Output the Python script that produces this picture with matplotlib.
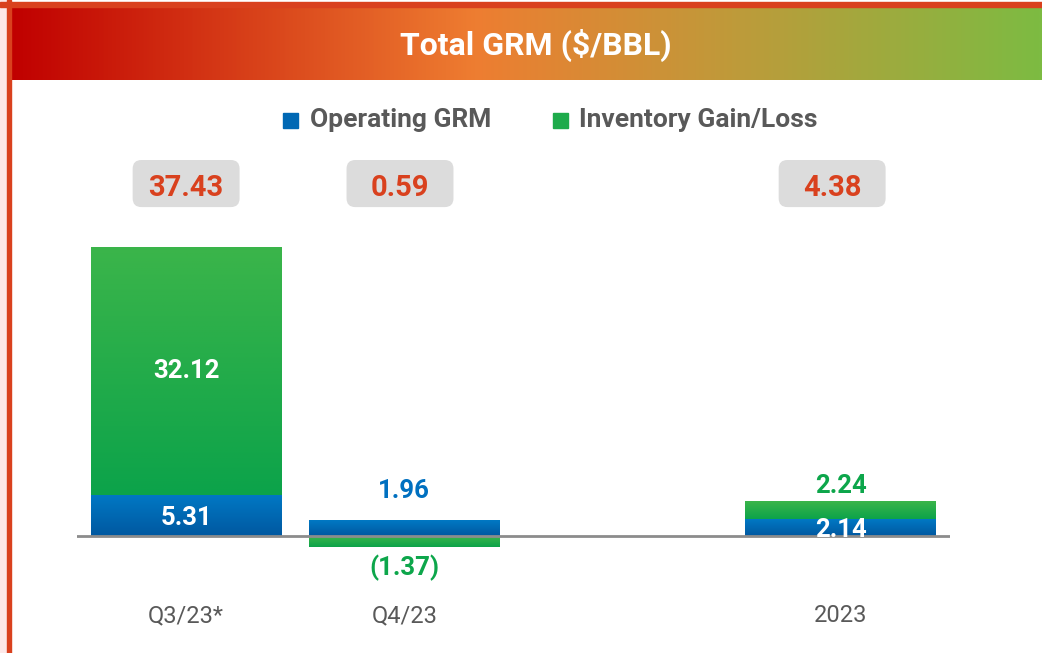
import numpy as np
import matplotlib.pyplot as plt
from matplotlib.colors import LinearSegmentedColormap
from matplotlib.patches import Rectangle, FancyBboxPatch

# data
categories = ["Q3/23*", "Q4/23", "2023"]
positions = [0, 1, 3]
operating = [5.31, 1.96, 2.14]
inventory = [32.12, -1.37, 2.24]
totals = ["37.43", "0.59", "4.38"]
op_labels = ["5.31", "1.96", "2.14"]
inv_labels = ["32.12", "(1.37)", "2.24"]

W, H = 1042, 653
fig = plt.figure(figsize=(W / 100, H / 100), dpi=100)
plt.rcParams['font.family'] = ['Roboto', 'DejaVu Sans']

RED = '#D9411E'
BLUE_TXT = '#0070C0'
GREEN_TXT = '#0DA64B'
GREY_TXT = '#595959'

blue_cm = LinearSegmentedColormap.from_list('b', ['#0058A0', '#0078C4'])
green_cm = LinearSegmentedColormap.from_list('g', ['#0CA34A', '#3BB54A'])
grad_v = np.linspace(0, 1, 256).reshape(-1, 1)

# frame decorations (pink strip, red border lines)
fig.patches.append(Rectangle((0, 0), 7 / W, 1, transform=fig.transFigure,
                             color='#FDE8E8', zorder=0))
fig.patches.append(Rectangle((7 / W, 0), 4 / W, 1, transform=fig.transFigure,
                             color=RED, zorder=1))
fig.patches.append(Rectangle((0, 1 - 7 / H), 1, 5 / H, transform=fig.transFigure,
                             color=RED, zorder=1))

# header gradient
hdr = fig.add_axes([11 / W, 1 - 80 / H, 1 - 11 / W, 73 / H])
hdr_cm = LinearSegmentedColormap.from_list(
    'h', [(0, '#C00000'), (0.45, '#EE7D31'), (0.7, '#BF9A3A'), (1, '#7DBB42')])
hdr.imshow(np.linspace(0, 1, 512).reshape(1, -1), cmap=hdr_cm, aspect='auto',
           extent=[0, 1, 0, 1])
hdr.set_axis_off()
hdr.text(0.509, 0.47, "Total GRM ($/BBL)", color='white', fontsize=23,
         fontweight='bold', ha='center', va='center')

# legend
leg_y = 1 - 120 / H
fig.patches.append(Rectangle((283 / W, 1 - 128 / H), 15 / W, 15 / H,
                             transform=fig.transFigure, color='#0068B4'))
fig.text(310 / W, leg_y, "Operating GRM", color=GREY_TXT, fontsize=19,
         fontweight='bold', va='center', ha='left')
fig.patches.append(Rectangle((553 / W, 1 - 128 / H), 15 / W, 15 / H,
                             transform=fig.transFigure, color='#1EAB4B'))
fig.text(579 / W, leg_y, "Inventory Gain/Loss", color=GREY_TXT, fontsize=19,
         fontweight='bold', va='center', ha='left')

# main axes
ax = fig.add_axes([77 / W, 1 - 590 / H, (950 - 77) / W, 430 / H])
width = 0.875
ob = ax.bar(positions, operating, width, color='none')
inv_bottom = [o if v >= 0 else 0 for o, v in zip(operating, inventory)]
ib = ax.bar(positions, inventory, width, bottom=inv_bottom, color='none')

for bars, cm in ((ob, blue_cm), (ib, green_cm)):
    for b in bars:
        x0, y0 = b.get_x(), b.get_y()
        y1 = y0 + b.get_height()
        ax.imshow(grad_v, cmap=cm, aspect='auto', origin='lower',
                  extent=[x0, x0 + b.get_width(), min(y0, y1), max(y0, y1)],
                  zorder=2)

ax.axhline(0, color='#8C8C8C', lw=2, zorder=3)
ax.set_xlim(-0.5, 3.5)
ax.set_ylim(-7, 48.7)
ax.set_axis_off()

lbl = dict(fontsize=18.5, fontweight='bold', ha='center', va='center', zorder=4)
# Q3/23
ax.text(positions[0], operating[0] + inventory[0] / 2, inv_labels[0], color='white', **lbl)
ax.text(positions[0], operating[0] / 2 - 0.3, op_labels[0], color='white', **lbl)
# Q4/23
ax.text(positions[1], operating[1] + 3.9, op_labels[1], color=BLUE_TXT, **lbl)
ax.text(positions[1], inventory[1] - 2.7, inv_labels[1], color=GREEN_TXT, **lbl)
# 2023
ax.text(positions[2], operating[2] + inventory[2] + 2.1, inv_labels[2], color=GREEN_TXT, **lbl)
ax.text(positions[2], operating[2] / 2 - 0.3, op_labels[2], color='white', **lbl)

# total boxes (px -> data: 218 px per x unit, 7.72 px per y unit)
box_w, box_h = 0.49, 6.1
aspect = 218 / 7.72
for p, t, dx in zip(positions, totals, (0.0, -0.02, -0.04)):
    cx = p + dx
    ax.add_patch(FancyBboxPatch((cx - box_w / 2, 42.6), box_w, box_h,
                                boxstyle='round,pad=0,rounding_size=0.04',
                                mutation_aspect=aspect, fc='#DCDCDC', ec='none',
                                zorder=3, clip_on=False))
    ax.text(cx, 45.1, t, color=RED, fontsize=21, fontweight='bold',
            ha='center', va='center', zorder=4)

# category labels
for p, c in zip(positions, categories):
    ax.text(p, -10.3, c, color=GREY_TXT, fontsize=17, ha='center', va='center',
            clip_on=False)

fig.savefig("out.png", dpi=100)
